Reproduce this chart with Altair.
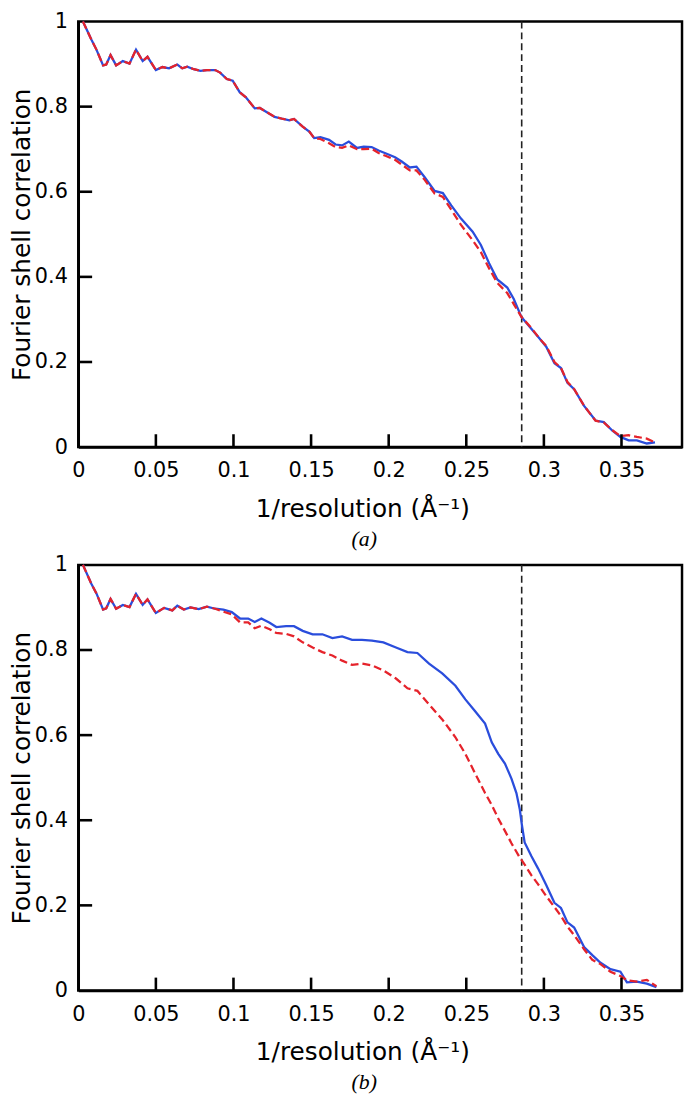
import altair as alt
import pandas as pd

# ---------------- data ----------------
XA = [0.003, 0.0085, 0.0117, 0.016, 0.018, 0.0208, 0.0244, 0.0287, 0.033, 0.0372,
      0.0415, 0.0446, 0.050, 0.0542, 0.0585, 0.0638, 0.067, 0.0702, 0.0744, 0.0787,
      0.0829, 0.0882, 0.0914, 0.0957, 0.0995, 0.104, 0.108, 0.1137, 0.117, 0.121,
      0.1265, 0.132, 0.136, 0.139, 0.1446, 0.149, 0.152, 0.156, 0.1616, 0.1658,
      0.170, 0.1743, 0.1796, 0.1839, 0.189, 0.1935, 0.1983, 0.2041, 0.2084, 0.2136,
      0.2179, 0.2232, 0.2296, 0.2349, 0.2403, 0.2466, 0.2541, 0.2594, 0.2647, 0.270,
      0.2764, 0.2806, 0.2855, 0.2919, 0.2972, 0.3015, 0.3068, 0.311, 0.3152, 0.3195,
      0.3259, 0.3333, 0.3386, 0.344, 0.3493, 0.3546, 0.3599, 0.3663, 0.3716]
A_BLUE = [1.0, 0.957, 0.934, 0.897, 0.899, 0.921, 0.897, 0.907, 0.901, 0.934,
          0.907, 0.917, 0.886, 0.893, 0.890, 0.899, 0.890, 0.894, 0.888, 0.884,
          0.886, 0.886, 0.880, 0.865, 0.861, 0.834, 0.822, 0.796, 0.797, 0.788,
          0.776, 0.771, 0.768, 0.771, 0.753, 0.741, 0.726, 0.728, 0.722, 0.711,
          0.709, 0.718, 0.703, 0.706, 0.705, 0.697, 0.690, 0.681, 0.671, 0.657,
          0.659, 0.634, 0.602, 0.597, 0.568, 0.537, 0.506, 0.475, 0.432, 0.394,
          0.375, 0.348, 0.306, 0.278, 0.255, 0.236, 0.197, 0.186, 0.151, 0.136,
          0.097, 0.0625, 0.0586, 0.039, 0.024, 0.016, 0.016, 0.0085, 0.011]
A_RED = [1.0, 0.957, 0.934, 0.897, 0.899, 0.921, 0.897, 0.907, 0.901, 0.934,
         0.907, 0.917, 0.886, 0.893, 0.890, 0.899, 0.890, 0.894, 0.888, 0.884,
         0.886, 0.886, 0.880, 0.865, 0.861, 0.834, 0.822, 0.796, 0.797, 0.788,
         0.776, 0.771, 0.768, 0.771, 0.753, 0.741, 0.726, 0.724, 0.714, 0.705,
         0.703, 0.709, 0.700, 0.700, 0.701, 0.691, 0.684, 0.675, 0.664, 0.650,
         0.650, 0.628, 0.596, 0.588, 0.558, 0.522, 0.486, 0.458, 0.420, 0.386,
         0.362, 0.336, 0.306, 0.280, 0.255, 0.238, 0.200, 0.186, 0.153, 0.136,
         0.097, 0.062, 0.058, 0.040, 0.026, 0.028, 0.024, 0.020, 0.011]

XB = [0.003, 0.0085, 0.0117, 0.016, 0.018, 0.0208, 0.0244, 0.0287, 0.033, 0.0372,
      0.0415, 0.0446, 0.050, 0.0553, 0.0606, 0.0638, 0.068, 0.0723, 0.0776, 0.0829,
      0.0882, 0.0935, 0.0989, 0.1042, 0.1095, 0.1137, 0.118, 0.1233, 0.1276, 0.1339,
      0.139, 0.1446, 0.151, 0.1573, 0.1637, 0.170, 0.1764, 0.1828, 0.1892, 0.1966,
      0.2047, 0.2121, 0.2185, 0.226, 0.2345, 0.243, 0.2494, 0.2557, 0.2621, 0.2664,
      0.2706, 0.2749, 0.2791, 0.2823, 0.2845, 0.2859, 0.2876, 0.2919, 0.2962, 0.3015,
      0.3068, 0.311, 0.3152, 0.3195, 0.3259, 0.3312, 0.3365, 0.3429, 0.3493, 0.3535,
      0.3599, 0.3663, 0.3725]
B_BLUE = [1.0, 0.955, 0.933, 0.895, 0.898, 0.920, 0.897, 0.906, 0.901, 0.932,
          0.906, 0.919, 0.887, 0.899, 0.893, 0.904, 0.895, 0.900, 0.896, 0.902,
          0.897, 0.895, 0.889, 0.874, 0.874, 0.866, 0.874, 0.864, 0.854, 0.856,
          0.856, 0.845, 0.837, 0.837, 0.828, 0.832, 0.824, 0.824, 0.822, 0.818,
          0.806, 0.795, 0.793, 0.768, 0.745, 0.716, 0.684, 0.656, 0.627, 0.583,
          0.556, 0.533, 0.498, 0.464, 0.425, 0.387, 0.348, 0.316, 0.287, 0.248,
          0.206, 0.194, 0.160, 0.148, 0.102, 0.083, 0.065, 0.050, 0.044, 0.019,
          0.021, 0.016, 0.008]
B_RED = [1.0, 0.955, 0.933, 0.895, 0.898, 0.920, 0.897, 0.906, 0.901, 0.932,
         0.906, 0.919, 0.887, 0.899, 0.893, 0.904, 0.895, 0.900, 0.896, 0.902,
         0.897, 0.890, 0.884, 0.865, 0.865, 0.851, 0.857, 0.849, 0.840, 0.838,
         0.832, 0.818, 0.806, 0.795, 0.787, 0.775, 0.765, 0.768, 0.764, 0.752,
         0.733, 0.710, 0.704, 0.672, 0.637, 0.595, 0.556, 0.510, 0.464, 0.436,
         0.404, 0.375, 0.346, 0.326, 0.312, 0.305, 0.296, 0.271, 0.250, 0.222,
         0.196, 0.175, 0.150, 0.130, 0.097, 0.072, 0.062, 0.044, 0.034, 0.024,
         0.021, 0.025, 0.010]

X_TICKS = [0, 0.05, 0.1, 0.15, 0.2, 0.25, 0.3, 0.35]
Y_TICKS = [0, 0.2, 0.4, 0.6, 0.8, 1]
CUTOFF = [0.2857]
CAPTIONS = ["(a)", "(b)"]

# ---------------- styling ----------------
W, H = 610, 430
BLUE = "#2a4ddc"
RED = "#e5232b"
FONT = "DejaVu Sans"
X_MAX = 0.389
XTICK_LEN = 13 / H           # inward x-tick length in y-data units (13 px)
YTICK_LEN = 14 * X_MAX / W   # inward y-tick length in x-data units (14 px)


def tick_table():
    rows = []
    for t in X_TICKS[1:]:
        rows += [{"id": f"x{t}", "x": t, "y": 0.0}, {"id": f"x{t}", "x": t, "y": XTICK_LEN}]
    for t in Y_TICKS[1:-1]:
        rows += [{"id": f"y{t}", "x": 0.0, "y": t}, {"id": f"y{t}", "x": YTICK_LEN, "y": t}]
    return pd.DataFrame(rows)


def panel(xs, blue, red, caption):
    df = pd.DataFrame({"x": xs, "blue": blue, "red": red})
    xs_ = alt.Scale(domain=[0, X_MAX], nice=False, zero=False)
    ys_ = alt.Scale(domain=[0, 1], nice=False)
    xaxis = alt.Axis(values=X_TICKS, format="~g", title="1/resolution (Å⁻¹)",
                     ticks=False, tickSize=0, labelPadding=13, titlePadding=16,
                     titleX=287, grid=False, labelFlush=False, labelOverlap=False)
    yaxis = alt.Axis(values=Y_TICKS, format="~g", title="Fourier shell correlation",
                     ticks=False, tickSize=0, labelPadding=11, titlePadding=0,
                     grid=False, labelFlush=False, labelOverlap=False)

    cut = alt.Chart(pd.DataFrame({"c": CUTOFF})).mark_rule(
        color="#222222", strokeWidth=1.6, strokeDash=[7, 4]
    ).encode(
        x=alt.X("c:Q", scale=xs_, axis=xaxis),
        y=alt.value(0),
        y2=alt.value(H),
    )
    blue_line = alt.Chart(df).mark_line(color=BLUE, strokeWidth=2.3).encode(
        x=alt.X("x:Q", scale=xs_, axis=xaxis),
        y=alt.Y("blue:Q", scale=ys_, axis=yaxis),
    )
    red_line = alt.Chart(df).mark_line(color=RED, strokeWidth=2.3, strokeDash=[8, 4]).encode(
        x=alt.X("x:Q", scale=xs_, axis=xaxis),
        y=alt.Y("red:Q", scale=ys_, axis=yaxis),
    )
    ticks = alt.Chart(tick_table()).mark_line(color="black", strokeWidth=2.6).encode(
        x=alt.X("x:Q", scale=xs_, axis=xaxis),
        y=alt.Y("y:Q", scale=ys_, axis=yaxis),
        detail="id:N",
    )
    return alt.layer(cut, blue_line, red_line, ticks).properties(
        width=W,
        height=H,
        title=alt.TitleParams(
            caption, orient="bottom", anchor="middle", font="Liberation Serif",
            fontStyle="italic", fontWeight="normal", fontSize=22, color="black",
            dx=-16, offset=8,
        ),
    )


chart = alt.vconcat(
    panel(XA, A_BLUE, A_RED, CAPTIONS[0]),
    panel(XB, B_BLUE, B_RED, CAPTIONS[1]),
    spacing=0,
).properties(
    padding={"left": 0, "top": -5, "right": 0, "bottom": 0},
).configure_view(
    stroke="black", strokeWidth=2.5
).configure_axis(
    domainColor="black", domainWidth=2.5,
    labelFont=FONT, labelFontSize=21, labelColor="black",
    titleFont=FONT, titleFontSize=25, titleFontWeight="normal", titleColor="black",
)

chart.save("out.html", embed_options={"renderer": "svg", "actions": False})
